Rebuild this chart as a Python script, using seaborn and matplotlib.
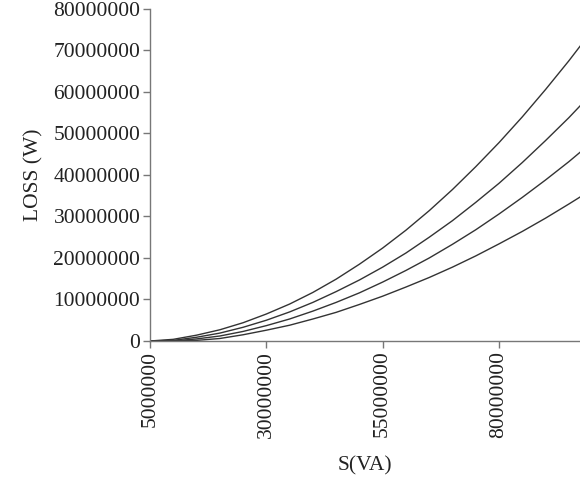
import matplotlib
matplotlib.use("Agg")
import matplotlib.pyplot as plt
import seaborn as sns
import pandas as pd

# Data (S in VA, losses in W)
s_va = [5e6, 10e6, 15e6, 20e6, 25e6, 30e6, 35e6, 40e6, 45e6, 50e6,
        55e6, 60e6, 65e6, 70e6, 75e6, 80e6, 85e6, 90e6, 95e6, 100e6]
loss_1 = [0.0, 0.4e6, 1.4e6, 2.7e6, 4.4e6, 6.5e6, 8.9e6, 11.7e6, 14.9e6, 18.5e6,
          22.4e6, 26.7e6, 31.4e6, 36.5e6, 42.0e6, 47.8e6, 54.0e6, 60.6e6, 67.5e6, 74.8e6]
loss_2 = [0.0, 0.15e6, 0.9e6, 1.9e6, 3.3e6, 5.0e6, 7.0e6, 9.3e6, 11.9e6, 14.7e6,
          17.8e6, 21.2e6, 25.0e6, 29.0e6, 33.4e6, 38.0e6, 43.0e6, 48.3e6, 53.8e6, 59.7e6]
loss_3 = [0.0, 0.0, 0.5e6, 1.2e6, 2.3e6, 3.7e6, 5.3e6, 7.2e6, 9.3e6, 11.6e6,
          14.2e6, 17.0e6, 20.0e6, 23.3e6, 26.8e6, 30.6e6, 34.6e6, 38.8e6, 43.2e6, 47.9e6]
loss_4 = [0.0, 0.0, 0.15e6, 0.6e6, 1.5e6, 2.6e6, 3.8e6, 5.3e6, 6.9e6, 8.8e6,
          10.8e6, 13.0e6, 15.3e6, 17.8e6, 20.5e6, 23.4e6, 26.4e6, 29.6e6, 33.0e6, 36.5e6]
series_names = ["c1", "c2", "c3", "c4"]
x_ticks = [5000000, 30000000, 55000000, 80000000]
y_ticks = [0, 10000000, 20000000, 30000000, 40000000, 50000000, 60000000, 70000000, 80000000]

rows = []
for name, vals in zip(series_names, [loss_1, loss_2, loss_3, loss_4]):
    for s, v in zip(s_va, vals):
        rows.append({"S": s, "LOSS": v, "series": name})
df = pd.DataFrame(rows)

sns.set_style("ticks")
plt.rcParams["font.family"] = ["Liberation Serif", "DejaVu Serif"]

fig = plt.figure(figsize=(5.8, 4.8), dpi=100)
ax = fig.add_axes([0.2586, 0.2896, 0.7414, 0.6917])

sns.lineplot(data=df, x="S", y="LOSS", hue="series",
             palette=["#333333"] * 4, linewidth=1.0, legend=False,
             estimator=None, sort=False, ax=ax)

ax.set_xlim(5e6, 97.4e6)
ax.set_ylim(0, 80e6)
ax.set_xticks(x_ticks)
ax.set_xticklabels([str(t) for t in x_ticks], rotation=90, fontsize=15.5, color="#222222")
ax.set_yticks(y_ticks)
ax.set_yticklabels([str(t) for t in y_ticks], fontsize=15.5, color="#222222")
ax.set_xlabel("S(VA)", fontsize=15.5, color="#222222", labelpad=13)
ax.set_ylabel("LOSS (W)", fontsize=15.5, color="#222222", labelpad=7)

for sp in ["top", "right"]:
    ax.spines[sp].set_visible(False)
for sp in ["left", "bottom"]:
    ax.spines[sp].set_color("#777777")
    ax.spines[sp].set_linewidth(1.0)
ax.tick_params(axis="both", direction="out", length=5, width=1, color="#777777", pad=2)

fig.savefig("out.png", dpi=100)
